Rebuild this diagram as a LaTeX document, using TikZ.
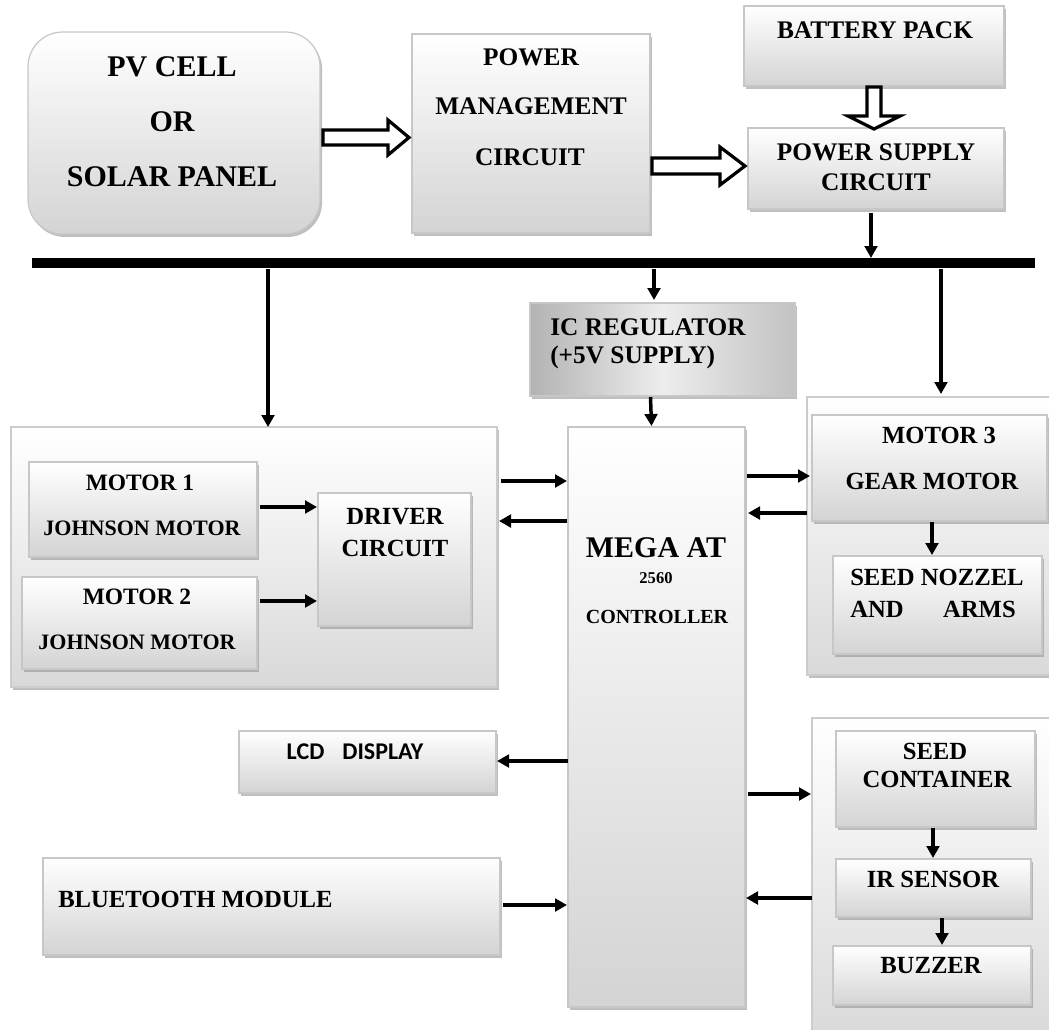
\documentclass[tikz,border=0pt]{standalone}
\usepackage{fontspec}
\setmainfont{Liberation Serif}
\newfontfamily\lcdfont{Carlito}
\usetikzlibrary{arrows.meta,shadows,calc}
\newcommand\bx[6]{\node[#2, anchor=north west, inner sep=0pt, outer sep=0pt,
  minimum width={(#5-#3)*0.75pt}, minimum height={(#6-#4)*0.75pt}] (#1) at (#3,#4) {};}
\begin{document}
\begin{tikzpicture}[x=0.75pt,y=-0.75pt,
  shd/.style={drop shadow={shadow xshift=1.6pt,shadow yshift=-2.2pt,fill=black!45,opacity=0.55}},
  box/.style={draw=black!22,line width=0.9pt,top color=white,bottom color=black!17,shd},
  grp/.style={draw=black!20,line width=0.9pt,top color=white,bottom color=black!15,shd},
  icbox/.style={draw=black!22,line width=0.9pt,left color=black!30,right color=black!24,middle color=black!7,shd},
  conn/.style={line width=2.6pt,-{Triangle[length=9pt,width=9.5pt]}},
  hollow/.style={draw=black,line width=2.4pt,fill=white,line join=miter},
  busbar/.style={fill=black,inner sep=0pt},
  txt/.style={inner sep=0pt,font=\fontsize{18.5}{20}\selectfont\bfseries},
  txtl/.style={inner sep=0pt,font=\fontsize{19}{20}\selectfont\bfseries},
  big/.style={inner sep=0pt,font=\fontsize{22.5}{24}\selectfont\bfseries},
  mot/.style={inner sep=0pt,font=\fontsize{17.6}{19}\selectfont\bfseries},
  john/.style={inner sep=0pt,font=\fontsize{16.5}{18}\selectfont\bfseries},
  ctrl/.style={inner sep=0pt,font=\fontsize{15}{16}\selectfont\bfseries},
  num/.style={inner sep=0pt,font=\fontsize{12.4}{13}\selectfont\bfseries},
  lcdt/.style={inner sep=0pt,font=\lcdfont\fontsize{18}{20}\selectfont\bfseries}
]
\useasboundingbox (0,0) rectangle (1049,1029);
\fill[white] (0,0) rectangle (1049,1029);

% ---- top row ----
\bx{pv}{box,rounded corners=26pt}{28}{32}{320}{234}
\bx{pm}{box}{412}{34}{650}{233}
\bx{bat}{box}{744}{6}{1004}{86}
\bx{ps}{box}{748}{128}{1004}{209}

\node[big] (t1) at (172,67) {PV CELL};
\node[big] (t2) at (172,122) {OR};
\node[big] (t3) at (172,177) {SOLAR PANEL};
\node[txtl] (t4) at (531,57) {POWER};
\node[txtl] (t5) at (531,106) {MANAGEMENT};
\node[txtl] (t6) at (530,157) {CIRCUIT};
\node[txtl] (t7) at (875,30) {BATTERY PACK};
\node[txtl] (t8) at (876,152) {POWER SUPPLY};
\node[txtl] (t9) at (876,182) {CIRCUIT};

% hollow arrows
\draw[hollow] ($(pv.east)+(3,-3)$) -- ++(65,0) -- ++(0,-10) -- ++(21,17.5) -- ++(-21,17.5) -- ++(0,-10) -- ++(-65,0) -- cycle;
\draw[hollow] ($(pm.east)+(2,24.5)$) -- ++(68,0) -- ++(0,-11) -- ++(25,19) -- ++(-25,19) -- ++(0,-11) -- ++(-68,0) -- cycle;
\draw[hollow] ($(bat.south)+(-7,1)$) -- ++(0,29) -- ++(-19,0) -- ++(26,13) -- ++(26,-13) -- ++(-19,0) -- ++(0,-29) -- cycle;

% bus
\node[busbar, anchor=north west, minimum width={(1035-32)*0.75pt}, minimum height={10*0.75pt}] (bus) at (32,258) {};
\coordinate (xps) at (871,0);
\coordinate (xl) at (268,0);
\coordinate (xic) at (654,0);
\coordinate (xr) at (941,0);
\draw[conn] ($(ps.south)+(-5,4)$) -- (bus.north -| xps);

% ---- middle ----
\bx{icr}{icbox}{530}{303}{795}{396}
\node[txtl, anchor=west] (t10) at (550,327) {IC REGULATOR};
\node[txtl, anchor=west] (t11) at (550,357) {(+5V SUPPLY)};

\bx{lg}{grp}{11}{427}{497}{687}
\bx{m1}{box}{29}{462}{257}{557}
\bx{m2}{box}{22}{577}{257}{669}
\bx{drv}{box}{318}{493}{471}{626}
\node[mot] (t12) at (140,483) {MOTOR 1};
\node[john] (t13) at (142,528) {JOHNSON MOTOR};
\node[mot] (t14) at (137,597) {MOTOR 2};
\node[john] (t15) at (137,642) {JOHNSON MOTOR};
\node[txt] (t16) at (395,517) {DRIVER};
\node[txt] (t17) at (395,548) {CIRCUIT};

\bx{mega}{box}{568}{427}{745}{1007}
\node[big] (t18) at (656,548) {MEGA AT};
\node[num] (t19) at (656,578) {2560};
\node[ctrl] (t20) at (657,617) {CONTROLLER};

\bx{rg}{grp}{807}{397}{1062}{675}
\bx{m3}{box}{812}{415}{1047}{521}
\bx{nz}{box}{833}{556}{1042}{654}
\node[txt] (t21) at (939,435) {MOTOR 3};
\node[txt] (t22) at (932,481) {GEAR MOTOR};
\node[txt, anchor=west] (t23) at (850,577) {SEED NOZZEL};
\node[txt, anchor=west] (t24) at (850,609) {AND};
\node[txt, anchor=east] (t25) at (1016,609) {ARMS};

\bx{lcd}{box}{239}{731}{496}{793}
\node[lcdt] (t26) at (355,752) {LCD\hspace{0.75em}DISPLAY};
\bx{bt}{box}{43}{858}{500}{955}
\node[txt, anchor=west] (t27) at (58,899) {BLUETOOTH MODULE};

\bx{bg}{grp}{812}{718}{1062}{1040}
\bx{sc}{box}{836}{731}{1035}{827}
\bx{ir}{box}{836}{859}{1031}{917}
\bx{bz}{box}{833}{946}{1031}{1005}
\node[txt] (t28) at (935,751) {SEED};
\node[txt] (t29) at (937,779) {CONTAINER};
\node[txt] (t30) at (933,879) {IR SENSOR};
\node[txt] (t31) at (931,966) {BUZZER};

% ---- connectors ----
\draw[conn] (bus.south -| xl) -- (lg.north -| xl);
\draw[conn] (bus.south -| xic) -- ($(icr.north -| xic)+(0,-3)$);
\draw[conn] (bus.south -| xr) -- ($(rg.north -| xr)+(0,-3)$);
\draw[conn] ($(icr.south)+(-12,1)$) -- ($(mega.north)+(-5,-1)$);

\draw[conn] ($(m1.north east)+(3,45)$) -- ($(drv.north west)+(-1,14)$);
\draw[conn] ($(m2.north east)+(3,24)$) -- ($(drv.north west)+(-1,108)$);

\draw[conn] ($(lg.north east)+(4,54)$) -- ($(mega.north west)+(-1,54)$);
\draw[conn] ($(mega.north west)+(-1,94)$) -- ($(lg.north east)+(2,94)$);
\draw[conn] ($(mega.north east)+(2,49)$) -- ($(m3.north west)+(-2,61)$);
\draw[conn] ($(rg.north west)+(0,116)$) -- ($(mega.north east)+(3,86)$);
\draw[conn] ($(m3.south)+(2.5,1)$) -- ($(nz.north)+(-5.5,-1)$);

\draw[conn] ($(mega.north west)+(0,334)$) -- ($(lcd.north east)+(1,30)$);
\draw[conn] ($(bt.north east)+(3,47)$) -- ($(mega.north west)+(-1,478)$);
\draw[conn] ($(mega.north east)+(3,367)$) -- ($(bg.north west)+(-1,76)$);
\draw[conn] ($(bg.north west)+(0,180)$) -- ($(mega.north east)+(1,471)$);
\draw[conn] ($(sc.south)+(-2.5,1)$) -- ($(ir.north)+(-0.5,-1)$);
\draw[conn] ($(ir.south)+(8.5,1)$) -- ($(bz.north)+(10,-1)$);
\end{tikzpicture}
\end{document}
